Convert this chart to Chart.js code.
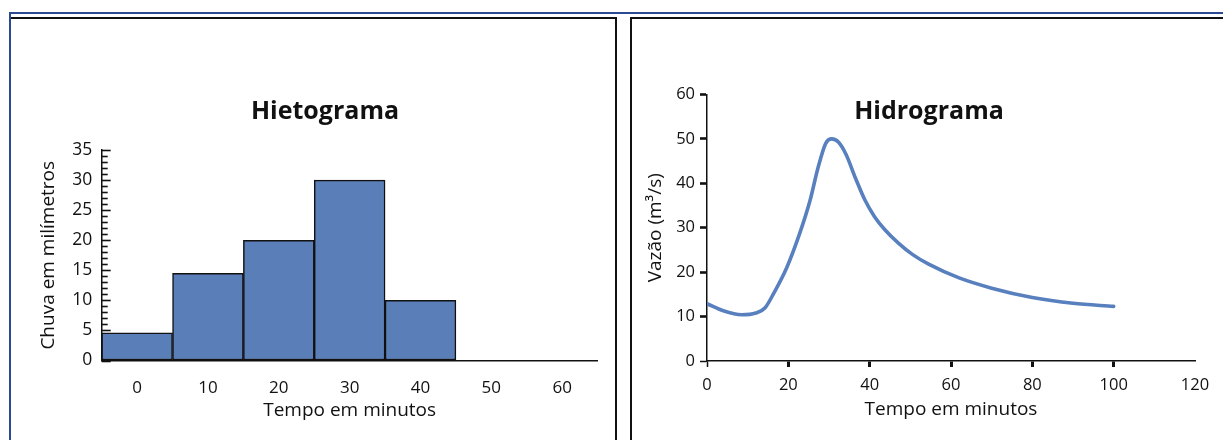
<!DOCTYPE html>
<html>
<head>
<meta charset="utf-8">
<script src="https://cdn.jsdelivr.net/npm/chart.js@4.4.1/dist/chart.umd.min.js"></script>
<style>
  html, body { margin: 0; padding: 0; background: #fff; width: 1223px; height: 440px; overflow: hidden; font-family: "Open Sans", sans-serif; }
  .rule { position: absolute; background: #2c4a94; }
  .panel { position: absolute; border-top: 2px solid #111; box-sizing: border-box; }
  #panelL { left: 11px; top: 17px; width: 606px; height: 430px; border-right: 2px solid #111; }
  #panelR { left: 630px; top: 17px; width: 600px; height: 430px; border-left: 2px solid #111; }
  canvas { position: absolute; }
  .title { position: absolute; width: 400px; text-align: center; font: bold 25px/25px "Open Sans", sans-serif; color: #111; }
</style>
</head>
<body>
<div class="rule" style="left:9px;top:12px;width:1214px;height:2px;"></div>
<div class="rule" style="left:9px;top:12px;width:2px;height:428px;"></div>
<div class="panel" id="panelL"></div>
<div class="panel" id="panelR"></div>
<canvas id="rain" width="600" height="420" style="left:14px;top:20px;"></canvas>
<canvas id="flow" width="590" height="420" style="left:633px;top:20px;"></canvas>
<div class="title" style="left:125px;top:97px;">Hietograma</div>
<div class="title" style="left:729px;top:97px;">Hidrograma</div>
<script>
// Rainfall per 10-minute interval (mm)
const RAIN_LABELS = ['0', '10', '20', '30', '40', '50', '60'];
const RAIN_MM = [4.6, 14.5, 20, 30, 10, null, null];
const RAIN_MAX = 35;
const RAIN_STEP = 5;

// Discharge over time
const FLOW_T = [0, 4, 8.5, 12, 14.3, 16.5, 19.6, 22.9, 25.3, 27.3, 29.2, 30.7, 32.3, 34.2, 36.5, 38.8, 41.2, 43.8, 47, 50.5, 54.5, 62, 70, 80, 90, 100];
const FLOW_Q = [12.9, 11.3, 10.4, 10.8, 12.0, 15.4, 21, 29, 36, 43.5, 49, 50, 49.3, 46.5, 41.2, 36.3, 32.5, 29.5, 26.6, 24.0, 21.8, 18.7, 16.4, 14.3, 13.0, 12.3];
const FLOW_X_MAX = 120;
const FLOW_Y_MAX = 60;

const INK = '#111';
const BLUE = '#5a7fb8';
const titleFont = { family: 'Open Sans', size: 19 };

// small inward tick marks on the rainfall axis, one per millimetre
const innerTicks = {
  id: 'innerTicks',
  beforeDatasetsDraw(chart) {
    const y = chart.scales.y;
    const ctx = chart.ctx;
    const x0 = chart.chartArea.left;
    ctx.save();
    ctx.strokeStyle = INK;
    ctx.lineWidth = 1.6;
    for (let v = 0; v <= RAIN_MAX; v++) {
      const py = Math.round(y.getPixelForValue(v)) + 0.5;
      const len = v % RAIN_STEP === 0 ? 9 : 6;
      ctx.beginPath();
      ctx.moveTo(x0, py);
      ctx.lineTo(x0 + len, py);
      ctx.stroke();
    }
    ctx.restore();
  }
};

new Chart(document.getElementById('rain'), {
  type: 'bar',
  data: {
    labels: RAIN_LABELS,
    datasets: [{
      data: RAIN_MM,
      backgroundColor: BLUE,
      borderColor: INK,
      borderWidth: 1.5,
      borderSkipped: false,
      barPercentage: 1,
      categoryPercentage: 1
    }]
  },
  plugins: [innerTicks],
  options: {
    responsive: false,
    animation: false,
    events: [],
    layout: { padding: { left: 0, right: 16.4, top: 130, bottom: 18.2 } },
    plugins: { legend: { display: false }, tooltip: { enabled: false }, title: { display: false } },
    scales: {
      x: {
        afterFit: s => { s.height = 61.3; },
        grid: { display: true, drawOnChartArea: false, drawTicks: false },
        border: { display: true, color: INK, width: 1.5 },
        ticks: { padding: 17, color: INK, font: { family: 'Open Sans', size: 17 }, maxRotation: 0 },
        title: { display: true, text: 'Tempo em minutos', color: INK, font: titleFont, padding: 0 }
      },
      y: {
        min: 0,
        max: RAIN_MAX,
        afterFit: s => { s.width = 87.7; },
        grid: { display: true, drawOnChartArea: false, drawTicks: false },
        border: { display: true, color: INK, width: 1.5 },
        ticks: { stepSize: RAIN_STEP, padding: 9.5, color: INK, font: { family: 'Open Sans', size: 17.5 } },
        title: { display: true, text: 'Chuva em milímetros', color: INK, font: titleFont, padding: { top: 23.2, bottom: 0 } }
      }
    }
  }
});

new Chart(document.getElementById('flow'), {
  type: 'line',
  data: {
    datasets: [{
      data: FLOW_T.map((t, i) => ({ x: t, y: FLOW_Q[i] })),
      borderColor: '#5880be',
      borderWidth: 3.6,
      pointRadius: 0,
      fill: false,
      cubicInterpolationMode: 'monotone',
      borderCapStyle: 'round'
    }]
  },
  options: {
    responsive: false,
    animation: false,
    events: [],
    layout: { padding: { left: 0, right: 28, top: 74.5, bottom: 19.5 } },
    plugins: { legend: { display: false }, tooltip: { enabled: false }, title: { display: false } },
    scales: {
      x: {
        type: 'linear',
        min: 0,
        max: FLOW_X_MAX,
        afterFit: s => { s.height = 59.5; },
        grid: {
          drawOnChartArea: false,
          tickLength: 6,
          tickWidth: c => (c.tick && c.tick.value === 0 ? 1.5 : 3),
          tickColor: c => (c.tick && c.tick.value === FLOW_X_MAX ? 'rgba(0,0,0,0)' : INK)
        },
        border: { display: true, color: INK, width: 1.5 },
        ticks: { stepSize: 20, padding: 8, color: INK, font: { family: 'Open Sans', size: 16.5 }, maxRotation: 0 },
        title: { display: true, text: 'Tempo em minutos', color: INK, font: titleFont, padding: 0 }
      },
      y: {
        min: 0,
        max: FLOW_Y_MAX,
        afterFit: s => { s.width = 74; },
        grid: {
          drawOnChartArea: false,
          tickLength: 7,
          tickWidth: c => (c.tick && c.tick.value === 0 ? 1.5 : 2.6),
          tickColor: INK
        },
        border: { display: true, color: INK, width: 1.5 },
        ticks: { stepSize: 10, padding: 5, color: INK, font: { family: 'Open Sans', size: 16.5 } },
        title: { display: true, text: 'Vazão (m³/s)', color: INK, font: titleFont, padding: { top: 11.2, bottom: 0 } }
      }
    }
  }
});
</script>
</body>
</html>
